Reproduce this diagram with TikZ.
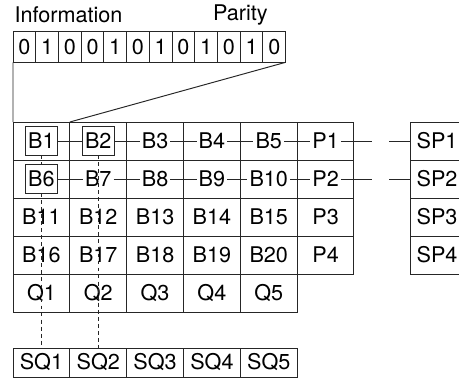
\documentclass[tikz,border=0pt]{standalone}
\usepackage{fontspec}
\setmainfont{TeX Gyre Heros}
\usetikzlibrary{positioning, calc}

\begin{document}
\begin{tikzpicture}[x=0.02cm, y=-0.02cm,
        font=\fontsize{12.3}{14}\selectfont,
        every node/.style={inner sep=0pt, outer sep=0pt},
        ln/.style={line width=0.55pt, draw=black!85},
        bitcell/.style={rectangle, ln, minimum width=0.4544cm, minimum height=0.612cm},
        cell/.style={rectangle, ln, minimum width=1.1366cm, minimum height=0.76cm},
        lbl/.style={inner sep=1.2pt},
        boxed/.style={rectangle, ln, minimum width=0.634cm, minimum height=0.566cm},
        link/.style={line width=0.55pt, black!85},
        vline/.style={link, dash pattern=on 2.2pt off 1.8pt}
      ]
        \useasboundingbox (0,0) rectangle (459,379);
        \clip (0,0) rectangle (459,379);

        \node (info) at (68.5,14.5) {Information};
        \node (parity) at (240.5,14.5) {Parity};

        \foreach \v [count=\i] in {0,1,0,0,1,0,1,0,1,0,1,0}
          \node[bitcell] (bit\i) at ({13+22.72*(\i-0.5)},47) {\v};

        \foreach \r in {1,...,4}{
          \foreach \c in {1,...,6}
            \node[cell] (cell-\r-\c) at ({13+56.83*(\c-0.5)},{122+38*(\r-0.5)}) {};
          \foreach \c in {1,...,5}{
            \pgfmathtruncatemacro\n{5*(\r-1)+\c}
            \node[lbl] (B\n) at (cell-\r-\c) {B\n};
          }
          \node[lbl] (P\r) at (cell-\r-6) {P\r};
          \node[cell, minimum width=1.08cm] (SPbox\r) at (437,{122+38*(\r-0.5)}) {};
          \node (SP\r) at (SPbox\r) {SP\r};
        }
        \foreach \b in {1,2,6}
          \node[boxed] (box\b) at (B\b) {};

        \foreach \c in {1,...,5}{
          \node[cell] (Q\c) at ({13+56.83*(\c-0.5)},293) {Q\c};
          \node[cell, minimum height=0.58cm] (SQ\c) at ({13+56.83*(\c-0.5)},362.5) {SQ\c};
        }

        \draw[link] (bit1.south west) -- (cell-1-1.north west);
        \draw[link] (bit12.south east) -- (cell-1-1.north east);

        \coordinate (gap1) at (372,141);
        \coordinate (end1) at (389,141);
        \coordinate (gap2) at (372,179);
        \coordinate (end2) at (389,179);

        \draw[link] (box1) -- (box2) -- (B3) -- (B4) -- (B5) -- (P1) -- (gap1);
        \draw[link] (end1) -- (SPbox1);
        \draw[link] (box6) -- (B7) -- (B8) -- (B9) -- (B10) -- (P2) -- (gap2);
        \draw[link] (end2) -- (SPbox2);

        \draw[vline] (box1) -- (box6);
        \draw[vline] (box6) -- (SQ1);
        \draw[vline] (box2) -- (SQ2);
      \end{tikzpicture}
\end{document}
